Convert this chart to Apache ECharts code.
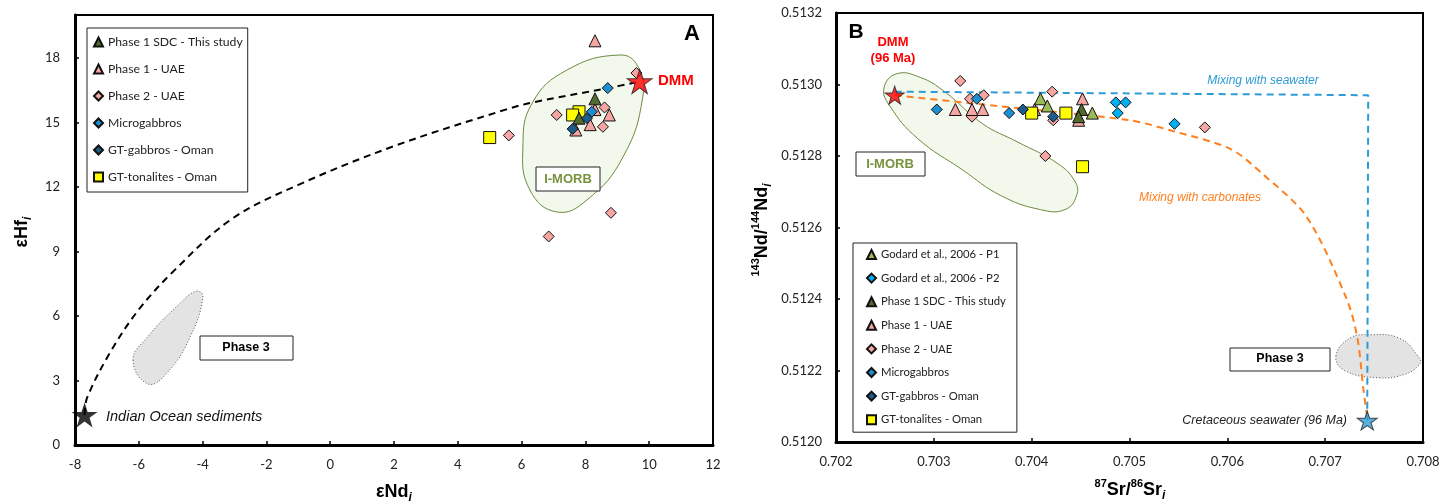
<!DOCTYPE html>
<html>
<head>
<meta charset="utf-8">
<script src="https://cdn.jsdelivr.net/npm/echarts@6/dist/echarts.min.js"></script>
<style>
html, body { margin: 0; padding: 0; background: #fff; }
#main { width: 1455px; height: 504px; }
</style>
</head>
<body>
<div id="main"></div>
<script>
// panel A : eHf vs eNd
var sdcA = [[8.3, 16.1], [7.8, 15.2]];
var p1uaeA = [[8.3, 18.8], [8.75, 15.35], [8.3, 15.6], [8.15, 14.9], [7.7, 14.65]];
var p2uaeA = [[9.6, 17.3], [8.6, 15.7], [8.55, 14.8], [7.1, 15.35], [5.6, 14.4], [8.8, 10.8], [6.85, 9.7]];
var microA = [[8.7, 16.6], [8.2, 15.5]];
var gtgabA = [[8.05, 15.2], [7.6, 14.7]];
var gttonA = [[7.8, 15.5], [7.6, 15.35], [5.0, 14.3]];
var dmmA = [[9.7, 16.9]];
var sedA = [[-7.7, 1.4]];
// mixing curve
var mixA = [[-7.7, 1.4], [-7.62, 2.2], [-6.9, 4.3], [-6.0, 6.3], [-4.9, 8.1], [-3.1, 10.5], [-1.0, 12.1], [2.0, 13.9], [5.5, 15.6], [6.4, 15.95], [8.7, 16.6], [9.7, 16.9]];
var phase3A = [[-6.18, 3.95], [-5.71, 2.84], [-5.12, 3.35], [-4.4, 5.0], [-3.99, 6.9], [-4.2, 7.15], [-4.7, 6.6], [-5.74, 5.0]];
var morbA = [[9.08, 18.14], [7.42, 17.44], [6.33, 15.9], [6.04, 13.86], [6.26, 11.86], [7.1, 10.84], [8.05, 11.4], [9.18, 13.4], [9.8, 16.2], [9.65, 17.6]];

// panel B : 143Nd/144Nd vs 87Sr/86Sr
var godP1 = [[0.70409, 0.51296], [0.70416, 0.51294], [0.70462, 0.51292]];
var godP2 = [[0.70486, 0.51295], [0.70496, 0.51295], [0.70488, 0.51292], [0.70546, 0.51289]];
var sdcB = [[0.70451, 0.51293], [0.70448, 0.51291]];
var p1uaeB = [[0.70322, 0.51293], [0.70339, 0.51293], [0.7035, 0.51293], [0.70403, 0.51293], [0.70452, 0.51296], [0.70448, 0.5129]];
var p2uaeB = [[0.70327, 0.51301], [0.70337, 0.51296], [0.70351, 0.51297], [0.70339, 0.51291], [0.70421, 0.51298], [0.70422, 0.5129], [0.70414, 0.5128], [0.70577, 0.51288]];
var microB = [[0.70303, 0.51293], [0.70344, 0.51296], [0.70377, 0.51292]];
var gtgabB = [[0.70391, 0.51293], [0.70422, 0.51291]];
var gttonB = [[0.704, 0.51292], [0.70435, 0.51292], [0.70452, 0.51277]];
var dmmB = [[0.7026, 0.51297]];
var seaB = [[0.70743, 0.51206]];
var mixSea = [[0.7026, 0.51298], [0.70744, 0.51297], [0.70743, 0.51206]];
var mixCarb = [[0.7026, 0.51297], [0.70365, 0.51294], [0.705, 0.5129], [0.70544, 0.51287], [0.70603, 0.51282], [0.70636, 0.51275], [0.70681, 0.51263], [0.70722, 0.5124], [0.70733, 0.51229], [0.70739, 0.51215], [0.70743, 0.51207]];
var phase3B = [[0.70711, 0.51224], [0.70725, 0.51229], [0.70746, 0.5123], [0.70776, 0.51229], [0.70795, 0.51224], [0.70797, 0.51222], [0.70782, 0.51219], [0.70753, 0.51218], [0.7072, 0.5122]];
var morbB = [[0.70262, 0.51303], [0.70286, 0.51302], [0.70311, 0.51298], [0.7035, 0.51289], [0.70385, 0.51284], [0.70426, 0.51278], [0.70444, 0.51273], [0.70446, 0.51269], [0.70434, 0.51265], [0.70409, 0.51265], [0.70368, 0.51269], [0.7033, 0.51276], [0.70283, 0.51285], [0.70255, 0.51294], [0.70249, 0.51299]];

var legendA = ['Phase 1 SDC - This study', 'Phase 1 - UAE', 'Phase 2 - UAE', 'Microgabbros', 'GT-gabbros - Oman', 'GT-tonalites - Oman'];
var legendB = ['Godard et al., 2006 - P1', 'Godard et al., 2006 - P2'].concat(legendA);

var C = {
    sdc: '#526A2D', pink: '#F5A5A2', micro: '#1E8ED3', gtgab: '#1C5D8C',
    ton: '#FFFF00', p1: '#9BBB59', p2: '#00B0F0', sea: '#2E9BD6', carb: '#FF7F1E'
};
var STAR = 'path://M50,0L61.23,34.55L97.55,34.55L68.17,55.9L79.39,90.45L50,69.1L20.61,90.45L31.83,55.9L2.45,34.55L38.77,34.55Z';
var tickFont = 'Lato';
var annFont = 'Arial, "Liberation Sans"';

function pts(name, data, g, symbol, size, color) {
    return {
        name: name, type: 'scatter', xAxisIndex: g, yAxisIndex: g, data: data,
        symbol: symbol, symbolSize: size, z: 4,
        itemStyle: { color: color, borderColor: '#111', borderWidth: 1, opacity: 1 }
    };
}
function blob(data, g, fill, stroke, dash) {
    return {
        type: 'custom', xAxisIndex: g, yAxisIndex: g, silent: true, z: 1, clip: false,
        data: [data[0]],
        renderItem: function (params, api) {
            return {
                type: 'polygon',
                shape: { points: data.map(function (p) { return api.coord(p); }), smooth: 0.45 },
                style: { fill: fill, stroke: stroke, lineWidth: 1, lineDash: dash }
            };
        }
    };
}
function curve(data, g, color, smooth) {
    return {
        type: 'line', xAxisIndex: g, yAxisIndex: g, data: data, symbol: 'none', smooth: smooth, z: 2, silent: true,
        lineStyle: { color: color, width: 2, type: [7, 5] }
    };
}

function axisBase(extra) {
    var a = {
        axisLine: { onZero: false, lineStyle: { color: '#000', width: 3 } },
        axisTick: { inside: true, length: 4, lineStyle: { color: '#000', width: 1.5 } },
        axisLabel: { fontFamily: tickFont, fontSize: 13, color: '#222', margin: 13 },
        splitLine: { show: false }
    };
    for (var k in extra) a[k] = extra[k];
    return a;
}

var titleRich = {
    b: { fontFamily: annFont, fontSize: 18, fontWeight: 'bold', color: '#000', lineHeight: 24, verticalAlign: 'middle' },
    s: { fontFamily: annFont, fontSize: 11, fontWeight: 'bold', color: '#000', lineHeight: 13, verticalAlign: 'top' },
    i: { fontFamily: annFont, fontSize: 12, fontWeight: 'bold', fontStyle: 'italic', color: '#000', lineHeight: 12, verticalAlign: 'bottom' }
};

function txt(x, y, text, font, color, align, rot) {
    return {
        type: 'text', x: x, y: y, rotation: rot || 0, z: 10,
        style: { text: text, font: font, fill: color || '#000', align: align || 'center', verticalAlign: 'middle' }
    };
}
function box(x, y, w, h) {
    return { type: 'rect', z: 9, shape: { x: x, y: y, width: w, height: h }, style: { fill: '#fff', stroke: '#222', lineWidth: 1 } };
}

var chart = echarts.init(document.getElementById('main'));
chart.setOption({
    animation: false,
    backgroundColor: '#fff',
    grid: [
        { left: 75, top: 15, width: 638, height: 430, show: true, borderColor: '#000', borderWidth: 2 },
        { left: 836, top: 13, width: 587, height: 429, show: true, borderColor: '#000', borderWidth: 2 }
    ],
    xAxis: [
        axisBase({ gridIndex: 0, type: 'value', min: -8, max: 12, interval: 2 }),
        axisBase({ gridIndex: 1, type: 'value', min: 0.702, max: 0.708, interval: 0.001,
            axisLabel: { fontFamily: tickFont, fontSize: 13, color: '#222', margin: 13, formatter: function (v) { return v.toFixed(3); } } })
    ],
    yAxis: [
        axisBase({ gridIndex: 0, type: 'value', min: 0, max: 20, interval: 3,
            axisLabel: { fontFamily: tickFont, fontSize: 13, color: '#222', margin: 15, showMaxLabel: false,
                formatter: function (v) { return v > 18 ? '' : v; } } }),
        axisBase({ gridIndex: 1, type: 'value', min: 0.512, max: 0.5132, interval: 0.0002,
            axisLabel: { fontFamily: tickFont, fontSize: 13, color: '#222', margin: 14, formatter: function (v) { return v.toFixed(4); } } })
    ],
    legend: [
        {
            data: legendA, left: 87, top: 28, orient: 'vertical', selectedMode: false,
            itemWidth: 9, itemHeight: 9, itemGap: 15, padding: [8, 5, 9, 6],
            borderColor: '#222', borderWidth: 1, backgroundColor: '#fff',
            textStyle: { fontFamily: tickFont, fontSize: 12.2, color: '#222' }
        },
        {
            data: legendB, left: 853, top: 243, orient: 'vertical', selectedMode: false,
            itemWidth: 9, itemHeight: 9, itemGap: 12.6, padding: [6, 11, 7, 13],
            borderColor: '#222', borderWidth: 1, backgroundColor: '#fff',
            textStyle: { fontFamily: tickFont, fontSize: 11.3, color: '#222' }
        }
    ],
    series: [
        blob(phase3A, 0, '#E3E3E3', '#555', [1, 2]),
        blob(morbA, 0, '#F3F8EC', '#6E8B3D', null),
        curve(mixA, 0, '#000', 0.35),
        pts('Phase 2 - UAE', p2uaeA, 0, 'diamond', 11, C.pink),
        pts('Phase 1 - UAE', p1uaeA, 0, 'triangle', 12, C.pink),
        pts('GT-tonalites - Oman', gttonA, 0, 'rect', 12, C.ton),
        pts('Phase 1 SDC - This study', sdcA, 0, 'triangle', 12, C.sdc),
        pts('Microgabbros', microA, 0, 'diamond', 11, C.micro),
        pts('GT-gabbros - Oman', gtgabA, 0, 'diamond', 11, C.gtgab),
        { type: 'scatter', xAxisIndex: 0, yAxisIndex: 0, data: dmmA, symbol: STAR, symbolSize: [25, 24], z: 6,
          itemStyle: { color: '#FF0000', borderColor: '#222', borderWidth: 1 } },
        { type: 'scatter', xAxisIndex: 0, yAxisIndex: 0, data: sedA, symbol: STAR, symbolSize: [26, 25], z: 6,
          itemStyle: { color: '#000' } },

        blob(phase3B, 1, '#E3E3E3', '#555', [1, 2]),
        blob(morbB, 1, '#F3F8EC', '#6E8B3D', null),
        curve(mixSea, 1, C.sea, false),
        curve(mixCarb, 1, C.carb, 0.3),
        pts('Phase 2 - UAE', p2uaeB, 1, 'diamond', 11, C.pink),
        pts('Phase 1 - UAE', p1uaeB, 1, 'triangle', 12, C.pink),
        pts('Godard et al., 2006 - P1', godP1, 1, 'triangle', 12, C.p1),
        pts('Godard et al., 2006 - P2', godP2, 1, 'diamond', 11, C.p2),
        pts('GT-tonalites - Oman', gttonB, 1, 'rect', 12, C.ton),
        pts('Phase 1 SDC - This study', sdcB, 1, 'triangle', 12, C.sdc),
        pts('Microgabbros', microB, 1, 'diamond', 11, C.micro),
        pts('GT-gabbros - Oman', gtgabB, 1, 'diamond', 11, C.gtgab),
        { type: 'scatter', xAxisIndex: 1, yAxisIndex: 1, data: dmmB, symbol: STAR, symbolSize: [19, 18], z: 6,
          itemStyle: { color: '#FF0000', borderColor: '#222', borderWidth: 1 } },
        { type: 'scatter', xAxisIndex: 1, yAxisIndex: 1, data: seaB, symbol: STAR, symbolSize: [20, 19], z: 6,
          itemStyle: { color: C.sea, borderColor: '#222', borderWidth: 1 } }
    ],
    graphic: [
        // panel A notes
        txt(692, 34, 'A', 'bold 22px ' + annFont),
        txt(658, 81, 'DMM', 'bold 15px ' + annFont, '#FF0000', 'left'),
        txt(106, 417, 'Indian Ocean sediments', 'italic 14.5px ' + annFont, '#111', 'left'),
        box(200, 336, 93, 24),
        txt(246, 348, 'Phase 3', 'bold 12.5px ' + annFont),
        box(536, 167, 64, 24),
        txt(568, 179, 'I-MORB', 'bold 13px ' + annFont, '#77933C'),
        // panel B notes
        txt(856, 32, 'B', 'bold 21px ' + annFont),
        txt(893, 42, 'DMM', 'bold 13px ' + annFont, '#FF0000'),
        txt(893, 58, '(96 Ma)', 'bold 13px ' + annFont, '#FF0000'),
        txt(1263, 81, 'Mixing with seawater', 'italic 12px ' + annFont, C.sea),
        txt(1200, 198, 'Mixing with carbonates', 'italic 12px ' + annFont, C.carb),
        box(1230, 348, 100, 23),
        txt(1280, 359, 'Phase 3', 'bold 12.5px ' + annFont),
        txt(1347, 421, 'Cretaceous seawater (96 Ma)', 'italic 12.5px ' + annFont, '#222', 'right'),
        box(856, 152, 69, 24),
        txt(890, 164, 'I-MORB', 'bold 13px ' + annFont, '#77933C'),
        // axis titles
        { type: 'text', x: 394, y: 492, z: 10, style: { text: '{b|εNd}{i|i}', rich: titleRich, align: 'center', verticalAlign: 'middle' } },
        { type: 'text', x: 22, y: 232, z: 10, rotation: Math.PI / 2, style: { text: '{b|εHf}{i|i}', rich: titleRich, align: 'center', verticalAlign: 'middle' } },
        { type: 'text', x: 1130, y: 490, z: 10, style: { text: '{s|87}{b|Sr/}{s|86}{b|Sr}{i|i}', rich: titleRich, align: 'center', verticalAlign: 'middle' } },
        { type: 'text', x: 762, y: 230, z: 10, rotation: Math.PI / 2, style: { text: '{s|143}{b|Nd/}{s|144}{b|Nd}{i|i}', rich: titleRich, align: 'center', verticalAlign: 'middle' } }
    ]
});
</script>
</body>
</html>
